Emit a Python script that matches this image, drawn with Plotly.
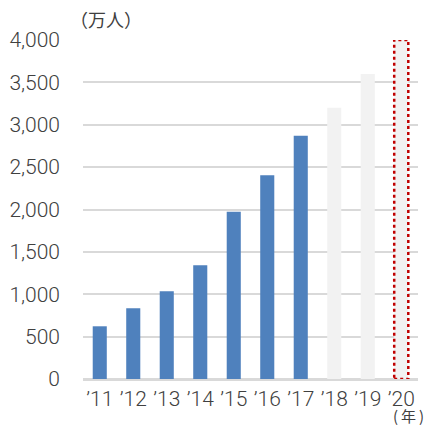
import plotly.graph_objects as go

# Visitor counts by year (10k people)
years = ["’11", "’12", "’13", "’14", "’15", "’16", "’17", "’18", "’19", "’20"]
actual = [622, 836, 1036, 1341, 1974, 2404, 2869]
planned = [3200, 3600, 4000]
tick_vals = [0, 500, 1000, 1500, 2000, 2500, 3000, 3500, 4000]
tick_text = ["0", "500", "1,000", "1,500", "2,000", "2,500", "3,000", "3,500", "4,000"]

BAR_W = 0.42
FONT = "Noto Sans CJK JP"
NUM_FONT = "Roboto"
TXT = "#404040"

fig = go.Figure()
fig.add_bar(x=years[:len(actual)], y=actual, width=BAR_W,
            marker=dict(color="#4f81bd", line=dict(width=0)))
fig.add_bar(x=years[len(actual):], y=planned, width=BAR_W,
            marker=dict(color="#f2f2f2", line=dict(width=0)))

# dotted outline around the final target bar
target_idx = len(years) - 1
fig.add_shape(type="rect", xref="x", yref="y",
              x0=target_idx - BAR_W / 2, x1=target_idx + BAR_W / 2,
              y0=0, y1=planned[-1],
              line=dict(color="#c00000", width=2.5, dash="dot"),
              fillcolor="rgba(0,0,0,0)", layer="above")

fig.update_layout(
    width=428, height=428,
    margin=dict(l=83, r=10, t=40, b=49),
    plot_bgcolor="white", paper_bgcolor="white",
    showlegend=False, barmode="overlay",
    font=dict(family=NUM_FONT, color=TXT, size=21),
    xaxis=dict(type="category", categoryorder="array", categoryarray=years,
               showgrid=False, showline=False, ticks="",
               ticklabelstandoff=5,
               tickfont=dict(size=21, color=TXT, family=NUM_FONT, weight=300),
               range=[-0.5, 9.5]),
    yaxis=dict(range=[0, 4000], tickvals=tick_vals, ticktext=tick_text,
               showgrid=True, gridcolor="#d9d9d9", gridwidth=2,
               zeroline=True, zerolinecolor="#d9d9d9", zerolinewidth=2.5,
               showline=False, ticks="", ticklabelstandoff=22,
               tickfont=dict(size=21, color=TXT, family=NUM_FONT, weight=300)),
    annotations=[
        dict(text="（万人）", xref="paper", yref="paper", x=-0.045, y=1.0,
             xanchor="left", yanchor="bottom", yshift=6, showarrow=False,
             font=dict(size=18, color=TXT, family=FONT)),
        dict(text="(\u2009年\u2009)", xref="paper", yref="paper", x=1.025, y=0,
             xanchor="right", yanchor="bottom", yshift=-49, showarrow=False,
             font=dict(size=15, color=TXT, family=FONT)),
    ],
)

fig.write_html("out.html")
